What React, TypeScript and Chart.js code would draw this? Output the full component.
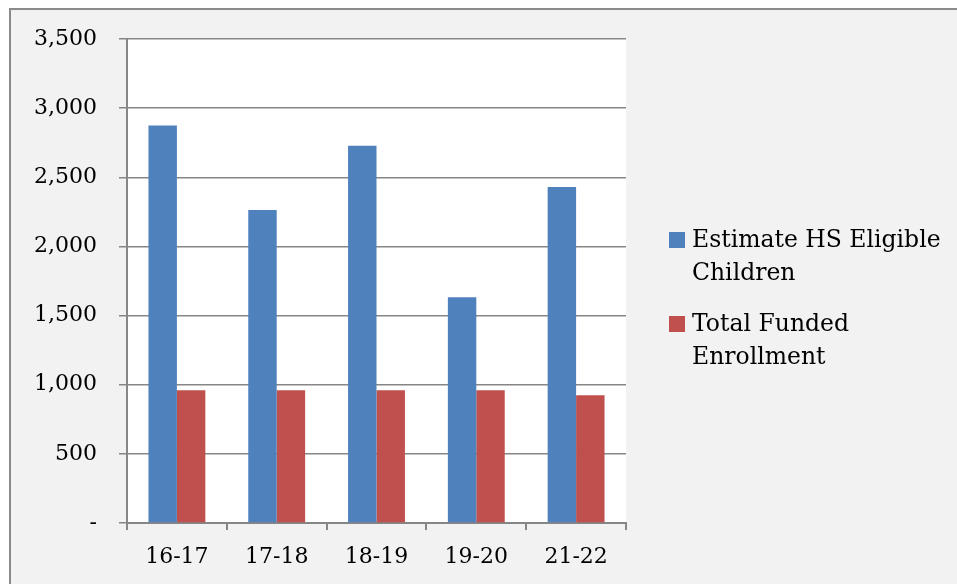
import React, { useEffect, useRef } from "react";
import { Chart, registerables } from "chart.js";

Chart.register(...registerables);

const categories = ["16-17", "17-18", "18-19", "19-20", "21-22"];
const eligibleChildren = [2875, 2263, 2728, 1632, 2430];
const fundedEnrollment = [960, 960, 960, 960, 923];
const seriesNames = ["Estimate HS Eligible Children", "Total Funded Enrollment"];
const legendLines = [
  ["Estimate HS Eligible", "Children"],
  ["Total Funded", "Enrollment"],
];
const yTicks = [0, 500, 1000, 1500, 2000, 2500, 3000, 3500];

const FONT = "'DejaVu Serif', serif";
const BLUE = "#4f81bd";
const RED = "#c0504d";
const GRID = "#868686";

const legendPlugin = {
  id: "wrappedLegend",
  afterDraw(chart: any) {
    const ctx = chart.ctx;
    const area = chart.chartArea;
    const x0 = area.right + 43;
    const lineH = 33;
    const y1 = area.top + 201;
    const y2 = area.top + 285;
    const starts = [y1, y2];
    ctx.save();
    ctx.font = `23.5px ${FONT}`;
    ctx.textBaseline = "middle";
    ctx.textAlign = "left";
    chart.data.datasets.forEach((ds: any, i: number) => {
      const y = starts[i];
      ctx.fillStyle = ds.backgroundColor;
      ctx.fillRect(x0, y - 8, 16, 16);
      ctx.fillStyle = "#000";
      legendLines[i].forEach((line, j) => {
        ctx.fillText(line, x0 + 23, y + 1 + j * lineH);
      });
    });
    ctx.restore();
  },
};

const plotBg = {
  id: "plotBg",
  beforeDraw(chart: any) {
    const { ctx, chartArea } = chart;
    ctx.save();
    ctx.fillStyle = "#ffffff";
    ctx.fillRect(chartArea.left, chartArea.top, chartArea.right - chartArea.left, chartArea.bottom - chartArea.top);
    ctx.restore();
  },
};

export default function App() {
  const ref = useRef<HTMLCanvasElement>(null);
  useEffect(() => {
    if (!ref.current) return;
    const chart = new Chart(ref.current, {
      type: "bar",
      data: {
        labels: categories,
        datasets: [
          {
            label: seriesNames[0],
            data: eligibleChildren,
            backgroundColor: BLUE,
            borderWidth: 0,
            categoryPercentage: 0.57,
            barPercentage: 1,
          },
          {
            label: seriesNames[1],
            data: fundedEnrollment,
            backgroundColor: RED,
            borderWidth: 0,
            categoryPercentage: 0.57,
            barPercentage: 1,
          },
        ],
      },
      options: {
        animation: false,
        responsive: false,
        maintainAspectRatio: false,
        layout: { padding: { top: 29, right: 331, left: 0, bottom: 0 } },
        plugins: {
          legend: { display: false },
          tooltip: { enabled: false },
          title: { display: false },
        },
        scales: {
          x: {
            grid: {
              offset: true,
              drawOnChartArea: false,
              drawTicks: true,
              tickLength: 7,
              color: GRID,
              lineWidth: 2,
            },
            border: { display: true, color: GRID, width: 2 },
            ticks: {
              color: "#000",
              font: { family: FONT, size: 22 },
              padding: 14,
              maxRotation: 0,
            },
            afterFit: (s: any) => {
              s.height = 61;
              s.paddingLeft = 0;
              s.paddingRight = 0;
            },
          },
          y: {
            min: 0,
            max: 3500,
            afterBuildTicks: (s: any) => {
              s.ticks = yTicks.map((v) => ({ value: v }));
            },
            grid: {
              color: GRID,
              lineWidth: 1.5,
              tickLength: 8,
            },
            border: { display: true, color: GRID, width: 2 },
            ticks: {
              color: "#000",
              font: { family: FONT, size: 22 },
              padding: 22,
              callback: (v: any) => (Number(v) === 0 ? "-" : Number(v).toLocaleString("en-US")),
            },
            afterFit: (s: any) => {
              s.width = 116;
              s.paddingTop = 0;
              s.paddingBottom = 0;
            },
          },
        },
      },
      plugins: [plotBg, legendPlugin],
    });
    return () => chart.destroy();
  }, []);

  return (
    <div
      style={{
        position: "fixed",
        left: 9,
        top: 8,
        width: 1000,
        height: 620,
        background: "#f2f2f2",
        borderLeft: "2px solid #8a8a8a",
        borderTop: "2px solid #8a8a8a",
        boxSizing: "border-box",
      }}
    >
      <canvas ref={ref} width={946} height={574} style={{ display: "block", width: 946, height: 574 }} />
    </div>
  );
}
